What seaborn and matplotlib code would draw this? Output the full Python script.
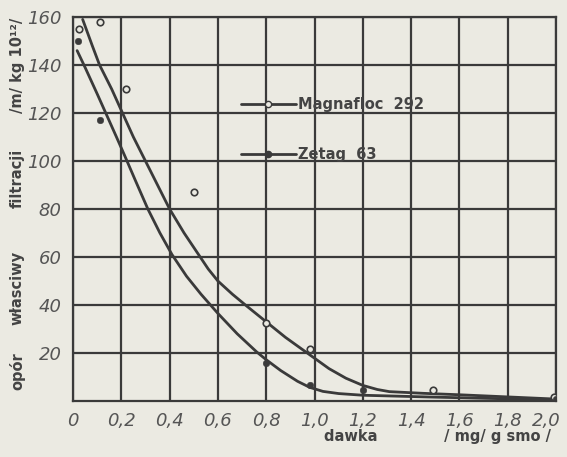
import matplotlib
matplotlib.use("Agg")
import matplotlib.pyplot as plt
from matplotlib.lines import Line2D
from matplotlib.transforms import ScaledTranslation
import seaborn as sns
import pandas as pd

# measured points
mag_x = [0.025, 0.11, 0.22, 0.50, 0.80, 0.98, 1.49, 1.99]
mag_y = [155, 158, 130, 87, 32.5, 21.5, 4.6, 1.5]
zet_x = [0.02, 0.11, 0.80, 0.98, 1.20, 2.00]
zet_y = [150, 117, 16, 6.5, 4.5, 1.0]

# fitted curves
mag_fit_x = [0.04, 0.08, 0.11, 0.16, 0.205, 0.25, 0.30, 0.35, 0.40, 0.46, 0.52, 0.56, 0.60,
             0.66, 0.72, 0.80, 0.88, 0.97, 1.06, 1.13, 1.20, 1.26, 1.31, 1.45, 1.60, 1.80, 2.00]
mag_fit_y = [159, 148, 140, 130, 120, 110, 100, 90, 80, 70, 61, 55, 50,
             44.5, 39.5, 33, 26.5, 20, 13.5, 9.5, 6.5, 4.8, 3.9, 3.2, 2.6, 1.7, 0.8]
zet_fit_x = [0.017, 0.05, 0.10, 0.14, 0.18, 0.215, 0.26, 0.31, 0.36, 0.41, 0.47, 0.53, 0.60,
             0.68, 0.76, 0.80, 0.86, 0.93, 0.98, 1.035, 1.10, 1.20, 1.50, 1.80, 2.00]
zet_fit_y = [146, 139, 128, 119, 110, 102, 91.5, 80, 70, 61, 52, 44.5, 36.5,
             28, 20.5, 17.2, 12.7, 8.2, 5.7, 4.0, 3.1, 2.4, 1.6, 0.9, 0.3]

x_ticks = [0, 0.2, 0.4, 0.6, 0.8, 1.0, 1.2, 1.4, 1.6, 1.8, 2.0]
x_labels = ["0", "0,2", "0,4", "0,6", "0,8", "1,0", "1,2", "1,4", "1,6", "1,8", "2,0"]
y_ticks = [20, 40, 60, 80, 100, 120, 140, 160]
y_labels = ["20", "40", "60", "80", "100", "120", "140", "160"]

series_names = ["Magnafloc  292", "Zetag  63"]
ylabel_words = ["opór", "własciwy", "filtracji", "/m/ kg 10¹²/"]

paper = "#ebeae2"
ink = "#3a3a3a"

sns.set_theme(style="white")
plt.rcParams["font.family"] = ["DejaVu Sans"]

fig = plt.figure(figsize=(5.67, 4.57), dpi=100, facecolor=paper)
ax = fig.add_axes([73/567, 1-401/457, 483/567, 384/457])
ax.set_facecolor(paper)

fit_df = pd.concat([
    pd.DataFrame({"x": mag_fit_x, "y": mag_fit_y, "s": series_names[0]}),
    pd.DataFrame({"x": zet_fit_x, "y": zet_fit_y, "s": series_names[1]}),
])
sns.lineplot(data=fit_df, x="x", y="y", hue="s", palette=[ink, ink], lw=2.0,
             legend=False, ax=ax, sort=False, zorder=3)
sns.scatterplot(x=mag_x, y=mag_y, ax=ax, marker="o", s=22, facecolor=paper,
                edgecolor=ink, linewidth=1.2, zorder=4, legend=False)
sns.scatterplot(x=zet_x, y=zet_y, ax=ax, marker="o", s=22, color=ink,
                edgecolor=ink, zorder=4, legend=False)

ax.set_xlim(0, 2.0)
ax.set_ylim(0, 160)
ax.set_xticks(x_ticks)
ax.set_yticks(y_ticks)
tick_font = dict(family="DejaVu Sans", style="italic", size=13, color="#555555")
ax.set_xticklabels(x_labels, **tick_font)
ax.set_yticklabels(y_labels, **tick_font)
ax.tick_params(axis="both", direction="out", length=7, width=1.6, color=ink, pad=1)
ax.grid(True, color=ink, lw=1.6)
for sp in ax.spines.values():
    sp.set_color(ink)
    sp.set_linewidth(1.6)

# keep the last x tick label inside the figure edge
last = ax.get_xticklabels()[-1]
last.set_transform(last.get_transform() + ScaledTranslation(-7 / 72, 0, fig.dpi_scale_trans))

ax.set_ylabel("")
ax.set_xlabel("dawka             / mg/ g smo /", fontsize=10.5, fontweight="bold",
              color="#444444", labelpad=0)
ax.xaxis.set_label_coords(0.755, -0.072)

# y-axis title, word by word (spread out like the original)
ylab_centers = [371, 288, 178, 65]
for word, yc in zip(ylabel_words, ylab_centers):
    fig.text(0.03, 1 - yc / 457, word, rotation=90, ha="center", va="center",
             fontsize=10.5, fontweight="bold", color="#444444")

handles = [
    Line2D([], [], color=ink, lw=2, marker="o", markersize=4.5, markerfacecolor=paper,
           markeredgecolor=ink),
    Line2D([], [], color=ink, lw=2, marker="o", markersize=4.5, markerfacecolor=ink,
           markeredgecolor=ink),
]
leg = ax.legend(handles, series_names, loc="upper left", bbox_to_anchor=(0.32, 0.825),
                frameon=False, handlelength=3.8, handletextpad=0.1, labelspacing=2.4,
                prop=dict(family="DejaVu Sans", weight="bold", size=10.5))
for t in leg.get_texts():
    t.set_color("#444444")

fig.savefig("out.png", dpi=100, facecolor=paper)
